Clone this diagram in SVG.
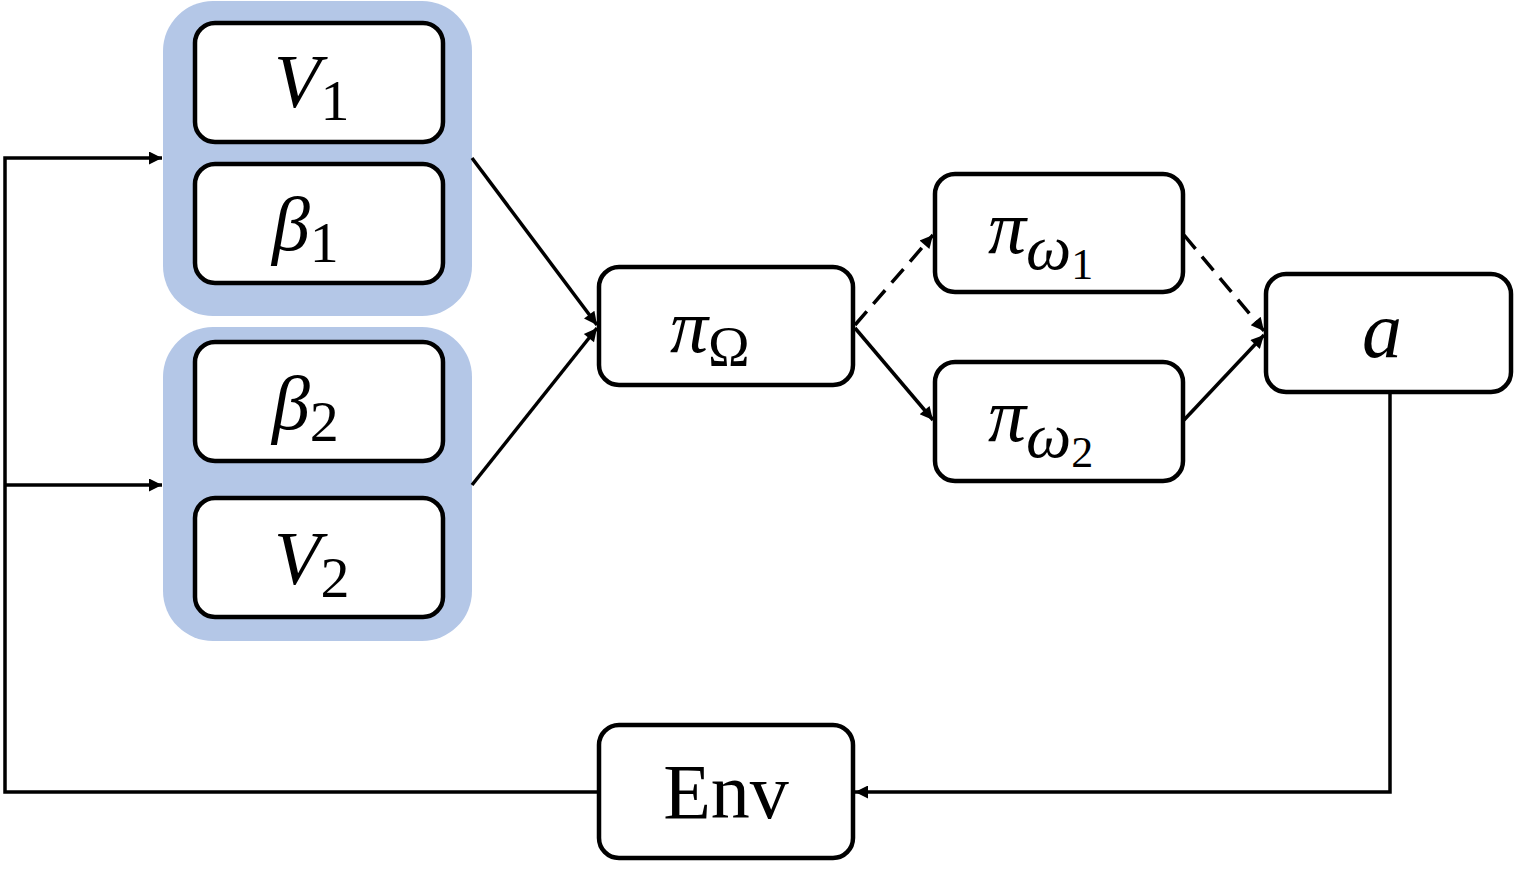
<svg xmlns="http://www.w3.org/2000/svg" width="1514" height="879" viewBox="0 0 1514 879">
<defs>
<style>
.grp{fill:#b4c7e7;}
.box{fill:#fff;stroke:#000;stroke-width:4.5;}
.ln{fill:none;stroke:#000;stroke-width:3.5;}
.dash{stroke-dasharray:18,10;}
.m{font-family:"Liberation Serif","DejaVu Serif",serif;font-style:italic;fill:#000;}
.s{font-family:"Liberation Serif","DejaVu Serif",serif;font-style:normal;fill:#000;}
</style>
<marker id="ahs" viewBox="0 0 10 10" refX="10" refY="5" markerWidth="17" markerHeight="13" markerUnits="userSpaceOnUse" orient="auto">
<path d="M0,0 L10,5 L0,10 z" fill="#000"/>
</marker>
</defs>
<rect width="1514" height="879" fill="#fff"/>
<g id="group1"><rect class="grp" x="163" y="1" width="309" height="315" rx="50"/></g>
<g id="group2"><rect class="grp" x="163" y="327" width="309" height="314" rx="50"/></g>
<g id="connectors">
<path class="ln" d="M598,792 L5,792 L5,158 L162,158" marker-end="url(#ahs)"/>
<path class="ln" d="M5,485 L162,485" marker-end="url(#ahs)"/>
<path class="ln" d="M1390,393 L1390,792 L855,792" marker-end="url(#ahs)"/>
<path class="ln" d="M472,158 L597,325" marker-end="url(#ahs)"/>
<path class="ln" d="M472,485 L597,328" marker-end="url(#ahs)"/>
<path class="ln dash" d="M855,325 L933,235" marker-end="url(#ahs)"/>
<path class="ln" d="M855,328 L933,420" marker-end="url(#ahs)"/>
<path class="ln dash" d="M1184,235 L1264,331" marker-end="url(#ahs)"/>
<path class="ln" d="M1184,420 L1264,335" marker-end="url(#ahs)"/>
</g>
<g id="V1"><rect class="box" x="195" y="23" width="248" height="119" rx="20"/>
<text x="274" y="107" class="m" font-size="76">V<tspan class="s" font-size="58" dy="13">1</tspan></text></g>
<g id="beta1"><rect class="box" x="195" y="164" width="248" height="119" rx="20"/>
<text x="272" y="250" class="m" font-size="76">β<tspan class="s" font-size="58" dy="12">1</tspan></text></g>
<g id="beta2"><rect class="box" x="195" y="342" width="248" height="119" rx="20"/>
<text x="272" y="429" class="m" font-size="76">β<tspan class="s" font-size="58" dy="12">2</tspan></text></g>
<g id="V2"><rect class="box" x="195" y="498" width="248" height="119" rx="20"/>
<text x="274" y="584" class="m" font-size="76">V<tspan class="s" font-size="58" dy="13">2</tspan></text></g>
<g id="piOmega"><rect class="box" x="599" y="267" width="254" height="118" rx="20"/>
<text x="670" y="352" class="m" font-size="76">π<tspan class="s" font-size="56" dy="14">Ω</tspan></text></g>
<g id="piw1"><rect class="box" x="935" y="174" width="248" height="118" rx="20"/>
<text x="988" y="253" class="m" font-size="76">π<tspan font-size="64" dy="16">ω</tspan><tspan class="s" font-size="44" dy="10">1</tspan></text></g>
<g id="piw2"><rect class="box" x="935" y="362" width="248" height="119" rx="20"/>
<text x="988" y="441" class="m" font-size="76">π<tspan font-size="64" dy="16">ω</tspan><tspan class="s" font-size="44" dy="10">2</tspan></text></g>
<g id="a"><rect class="box" x="1266" y="274" width="245" height="118" rx="20"/>
<text x="1382" y="357" class="m" font-size="80" text-anchor="middle">a</text></g>
<g id="Env"><rect class="box" x="599" y="725" width="254" height="133" rx="20"/>
<text x="726" y="818" class="s" font-size="78" text-anchor="middle">Env</text></g>
</svg>
